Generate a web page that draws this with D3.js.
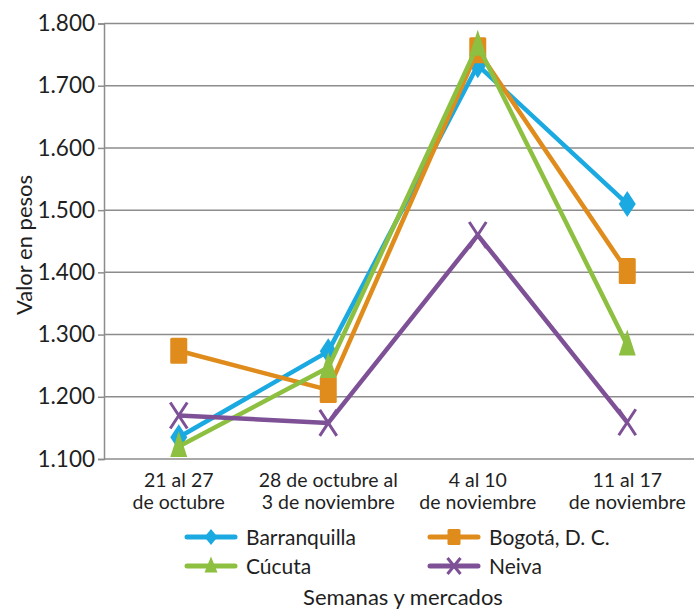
<!DOCTYPE html>
<html>
<head>
<meta charset="utf-8">
<script src="https://cdn.jsdelivr.net/npm/d3@7"></script>
<style>
  body { margin: 0; background: #fff; }
  svg text { font-family: "Lato", sans-serif; fill: #1f1f1f; }
</style>
</head>
<body>
<div id="chart"></div>
<script>
// data
const weeks = ["21 al 27|de octubre", "28 de octubre al|3 de noviembre", "4 al 10|de noviembre", "11 al 17|de noviembre"];
const barranquilla = [1135, 1273, 1733, 1510];
const bogota = [1274, 1211, 1757, 1402];
const cucuta = [1120, 1247, 1765, 1283];
const neiva = [1170, 1158, 1460, 1159];
const yTicks = [1100, 1200, 1300, 1400, 1500, 1600, 1700, 1800];

const series = [
  {name: "Barranquilla", values: barranquilla, color: "#1aa9e0", marker: "diamond"},
  {name: "Bogotá, D. C.", values: bogota, color: "#e08c1c", marker: "square"},
  {name: "Cúcuta", values: cucuta, color: "#8dbf40", marker: "triangle"},
  {name: "Neiva", values: neiva, color: "#7e5197", marker: "cross"}
];

const W = 694, H = 610;
const plotLeft = 104, plotRight = 702, plotTop = 23.5, plotBottom = 459;

const svg = d3.select("#chart").append("svg")
    .attr("width", W)
    .attr("height", H);

const x = d3.scalePoint()
    .domain(weeks)
    .range([plotLeft, plotRight])
    .padding(0.5);

const y = d3.scaleLinear()
    .domain([1100, 1800])
    .range([plotBottom, plotTop]);

const fmt = d => d3.format(",")(d).replace(",", ".");

// gridlines
svg.append("g")
    .selectAll("line")
    .data(yTicks)
    .enter().append("line")
    .attr("x1", plotLeft)
    .attr("x2", plotRight)
    .attr("y1", d => y(d))
    .attr("y2", d => y(d))
    .style("stroke", "#8c8c8c")
    .style("stroke-width", 1.5);

// Y axis
const yAxis = d3.axisLeft(y).tickValues(yTicks).tickFormat(fmt).tickSize(6).tickPadding(3);
svg.append("g")
    .attr("transform", `translate(${plotLeft},0)`)
    .call(yAxis)
    .call(g => g.select(".domain").attr("stroke", "#8c8c8c").attr("stroke-width", 1.5))
    .call(g => g.selectAll(".tick line").attr("stroke", "#8c8c8c").attr("stroke-width", 1.5))
    .call(g => g.selectAll(".tick text")
        .style("font-size", "22.5px")
        .style("font-family", "Lato, sans-serif")
        .attr("fill", "#1f1f1f"));

// X axis labels (two lines)
const xLabels = svg.append("g")
    .selectAll("text")
    .data(weeks)
    .enter().append("text")
    .attr("x", d => x(d))
    .attr("y", 487)
    .style("text-anchor", "middle")
    .style("font-size", "19.5px");
xLabels.append("tspan")
    .attr("x", d => x(d))
    .text(d => d.split("|")[0]);
xLabels.append("tspan")
    .attr("x", d => x(d))
    .attr("dy", 22)
    .text(d => d.split("|")[1]);

// Y axis label
svg.append("text")
    .attr("transform", "rotate(-90)")
    .attr("x", -245)
    .attr("y", 32)
    .style("text-anchor", "middle")
    .style("font-size", "22px")
    .text("Valor en pesos");

function drawMarker(g, type, color, w, h) {
  if (type === "diamond") {
    g.append("path")
      .attr("d", `M0,${-h/2}L${w/2},0L0,${h/2}L${-w/2},0Z`)
      .style("fill", color);
  } else if (type === "square") {
    g.append("rect")
      .attr("x", -w/2).attr("y", -h/2)
      .attr("width", w).attr("height", h)
      .attr("rx", 1.5)
      .style("fill", color);
  } else if (type === "triangle") {
    g.append("path")
      .attr("d", `M0,${-h*0.6}L${w/2},${h*0.4}L${-w/2},${h*0.4}Z`)
      .style("fill", color);
  } else {
    g.append("path")
      .attr("d", `M${-w/2},${-h/2}L${w/2},${h/2}M${w/2},${-h/2}L${-w/2},${h/2}`)
      .style("stroke", color)
      .style("stroke-width", 3)
      .style("fill", "none");
  }
}

const line = d3.line()
    .x((d, i) => x(weeks[i]))
    .y(d => y(d));

// series
series.forEach(function(s) {
  const g = svg.append("g");
  g.append("path")
    .datum(s.values)
    .attr("d", line)
    .style("fill", "none")
    .style("stroke", s.color)
    .style("stroke-width", 4.5)
    .style("stroke-linejoin", "round");
  s.values.forEach(function(v, i) {
    const m = g.append("g").attr("transform", `translate(${x(weeks[i])},${y(v)})`);
    drawMarker(m, s.marker, s.color, 17, 26);
  });
});

// legend
const legendPos = [[187, 537], [430, 537], [187, 566], [430, 566]];
series.forEach(function(s, i) {
  const p = legendPos[i];
  const lg = svg.append("g").attr("transform", `translate(${p[0]},${p[1]})`);
  lg.append("line")
    .attr("x1", 0).attr("x2", 48)
    .attr("y1", 0).attr("y2", 0)
    .style("stroke", s.color)
    .style("stroke-width", 5)
    .style("stroke-linecap", "round");
  const m = lg.append("g").attr("transform", "translate(24,0)");
  drawMarker(m, s.marker, s.color, 13, 16);
  lg.append("text")
    .attr("x", 59)
    .attr("y", 7.5)
    .style("font-size", "21px")
    .text(s.name);
});

// X title
svg.append("text")
    .attr("x", (plotLeft + plotRight) / 2)
    .attr("y", 605)
    .style("text-anchor", "middle")
    .style("font-size", "22px")
    .text("Semanas y mercados");
</script>
</body>
</html>
